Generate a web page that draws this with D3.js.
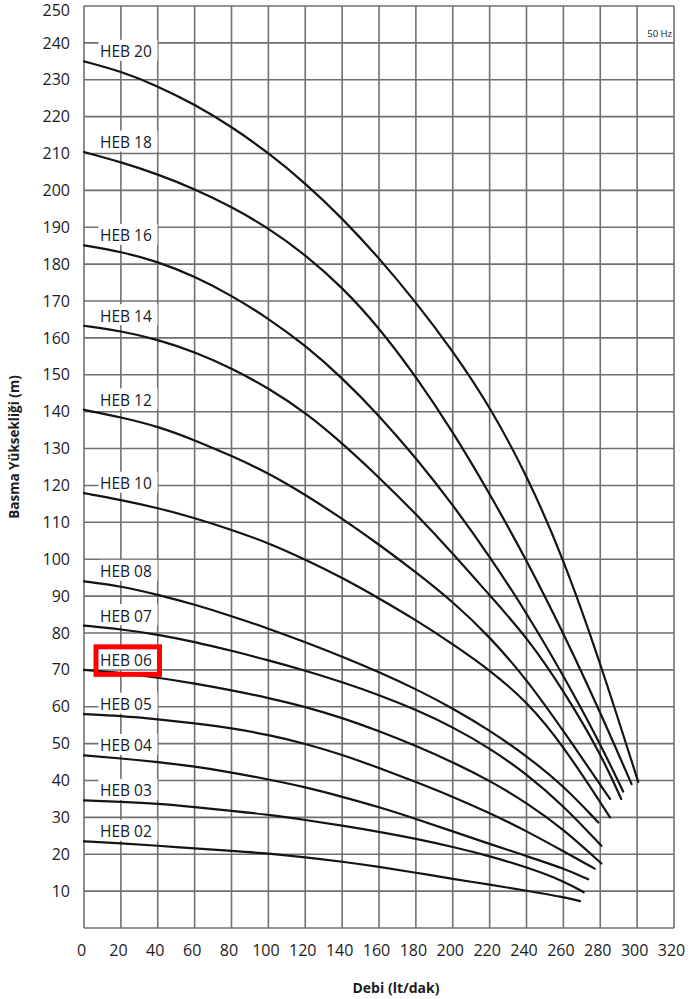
<!DOCTYPE html>
<html>
<head>
<meta charset="utf-8">
<script src="https://cdn.jsdelivr.net/npm/d3@7/dist/d3.min.js"></script>
<style>
  html, body { margin: 0; padding: 0; background: #fff; }
  svg { display: block; }
</style>
</head>
<body>
<svg id="chart" width="691" height="999"></svg>
<script>
// ---------- DATA ----------
const xTicks = [0,20,40,60,80,100,120,140,160,180,200,220,240,260,280,300,320];
const yTicks = [10,20,30,40,50,60,70,80,90,100,110,120,130,140,150,160,170,180,190,200,210,220,230,240,250];
const modelNames = ["HEB 20","HEB 18","HEB 16","HEB 14","HEB 12","HEB 10","HEB 08","HEB 07","HEB 06","HEB 05","HEB 04","HEB 03","HEB 02"];

const heb20 = [[0,235],[20,232.3],[40,228.3],[60,223.3],[80,217.3],[100,210.2],[120,202],[140,192.5],[160,181.7],[180,169.7],[200,156.5],[220,141.5],[240,123],[260,100.3],[280,72],[300.6,39.6]];
const heb18 = [[0,210.4],[20,207.7],[40,204.4],[60,200.4],[80,195.6],[100,189.8],[120,182.6],[140,173.8],[160,162.8],[180,149.6],[200,134.6],[220,117.8],[240,99.8],[260,80],[280,58.5],[297,39]];
const heb16 = [[0,185.1],[20,183.4],[40,180.7],[60,176.7],[80,171.5],[100,165.3],[120,158],[140,149.2],[160,139],[180,127.5],[200,114.8],[220,100.8],[240,85.5],[260,68.5],[280,50],[292.4,37]];
const heb14 = [[0,163.3],[20,161.9],[40,159.6],[60,156.2],[80,151.8],[100,146.4],[120,139.8],[140,131.5],[160,122.2],[180,112.3],[200,101.6],[220,90.2],[240,79],[260,64.5],[280,47.5],[291.4,35]];
const heb12 = [[0,140.5],[20,138.5],[40,136],[60,132.3],[80,128],[100,123.4],[120,117.5],[140,111],[160,104],[180,96.5],[200,88.5],[220,79],[240,67.5],[260,53.5],[285.3,35]];
const heb10 = [[0,117.9],[20,116.1],[40,113.9],[60,111.2],[80,108],[100,104.4],[120,99.9],[140,95],[160,89.4],[180,83.5],[200,77],[220,70],[240,61.5],[260,49.5],[285.3,30]];
const heb08 = [[0,94],[20,92.7],[40,90.4],[60,87.7],[80,84.6],[100,81.2],[120,77.5],[140,73.6],[160,69.4],[180,64.8],[200,59.6],[220,53.6],[240,46.7],[260,38.6],[279,28.6]];
const heb07 = [[0,82],[20,81],[40,79.6],[60,77.6],[80,75.2],[100,72.6],[120,69.8],[140,66.7],[160,63.2],[180,59.2],[200,54.5],[220,48.8],[240,41.8],[260,33.2],[280.6,22.3]];
const heb06 = [[0,70],[20,69.2],[40,67.9],[60,66.3],[80,64.5],[100,62.4],[120,60],[140,57],[160,53.4],[180,49.4],[200,45],[220,40],[240,34],[260,26.8],[280.6,17.5]];
const heb05 = [[0,58],[20,57.5],[40,56.6],[60,55.5],[80,54.2],[100,52.4],[120,50],[140,47],[160,43.4],[180,39.6],[200,35.6],[220,31.2],[240,26.3],[260,20.8],[277,16.1]];
const heb04 = [[0,46.8],[20,46],[40,45],[60,43.8],[80,42.2],[100,40.3],[120,38.2],[140,35.6],[160,32.8],[180,29.6],[200,26.2],[220,22.8],[240,19.5],[260,16.2],[273.5,13.2]];
const heb03 = [[0,34.6],[20,34.2],[40,33.7],[60,32.8],[80,31.8],[100,30.7],[120,29.3],[140,27.8],[160,26.1],[180,24.2],[200,22],[220,19.5],[240,16.5],[260,12.8],[271,9.7]];
const heb02 = [[0,23.5],[20,23],[40,22.3],[60,21.6],[80,20.9],[100,20.2],[120,19.2],[140,18],[160,16.6],[180,15],[200,13.3],[220,11.8],[240,10.1],[260,8.4],[269,7.3]];

const seriesList = [heb20,heb18,heb16,heb14,heb12,heb10,heb08,heb07,heb06,heb05,heb04,heb03,heb02];
const highlighted = "HEB 06";
const freqLabel = "50 Hz";
const xTitle = "Debi (lt/dak)";
const yTitle = "Basma Yüksekliği (m)";

// ---------- LAYOUT ----------
const margin = {left: 84, right: 17, top: 6, bottom: 71};
const W = 691, H = 999;
const svg = d3.select("#chart");
const font = "'Open Sans', 'Noto Sans', sans-serif";

const x = d3.scaleLinear().domain([0, 320]).range([margin.left, W - margin.right]);
const y = d3.scaleLinear().domain([0, 250]).range([H - margin.bottom, margin.top]);

const gridColor = "#707070";

// grid
const grid = svg.append("g");
grid.selectAll("line.v").data(xTicks).join("line")
  .attr("x1", d => x(d)).attr("x2", d => x(d))
  .attr("y1", y(0)).attr("y2", y(250))
  .attr("stroke", gridColor).attr("stroke-width", 1.6);
grid.selectAll("line.h").data(d3.range(0, 251, 10)).join("line")
  .attr("x1", x(0)).attr("x2", x(320))
  .attr("y1", d => y(d)).attr("y2", d => y(d))
  .attr("stroke", gridColor).attr("stroke-width", 1.6);

// axes (labels only)
const xAxis = d3.axisBottom(x).tickValues(xTicks).tickSize(0).tickPadding(17).tickFormat(d3.format("d"));
const gx = svg.append("g").attr("transform", `translate(0,${y(0)})`).call(xAxis);
gx.select(".domain").remove();
gx.selectAll("text").attr("font-family", font).attr("font-size", 16).attr("fill", "#1c1c1c").attr("dx", -3);

const yAxis = d3.axisLeft(y).tickValues(yTicks).tickSize(0).tickPadding(14).tickFormat(d3.format("d"));
const gy = svg.append("g").attr("transform", `translate(${x(0)},0)`).call(yAxis);
gy.select(".domain").remove();
gy.selectAll("text").attr("font-family", font).attr("font-size", 16).attr("fill", "#1c1c1c")
  .attr("dy", d => d === 250 ? "0.62em" : "0.32em");

// label backgrounds
const labelX = x(0) + 16;
const labelCenter = s => y(s[0][1]) - 9.5;
svg.append("g").selectAll("rect").data(seriesList).join("rect")
  .attr("x", labelX - 1.5).attr("width", 59)
  .attr("y", s => labelCenter(s) - 12).attr("height", 21)
  .attr("fill", "#fff");

// curves
const line = d3.line().x(d => x(d[0])).y(d => y(d[1])).curve(d3.curveBasis);
svg.append("g").selectAll("path").data(seriesList).join("path")
  .attr("d", line)
  .attr("fill", "none").attr("stroke", "#141414").attr("stroke-width", 2.2)
  .attr("stroke-linecap", "round");

// curve labels
svg.append("g").selectAll("text").data(seriesList).join("text")
  .attr("x", labelX).attr("y", s => labelCenter(s) + 5.5)
  .attr("font-family", font).attr("font-size", 15.5).attr("fill", "#161b2a")
  .text((s, i) => modelNames[i]);

// highlight box
const hi = modelNames.indexOf(highlighted);
svg.append("rect")
  .attr("x", labelX - 4).attr("width", 63.5)
  .attr("y", labelCenter(seriesList[hi]) - 13.5).attr("height", 27.5)
  .attr("fill", "none").attr("stroke", "#ff0000").attr("stroke-width", 5);

// frequency note
svg.append("text").attr("x", x(320) - 2).attr("y", y(250) + 31)
  .attr("text-anchor", "end").attr("font-family", font).attr("font-size", 9.5).attr("fill", "#222")
  .text(freqLabel);

// axis titles
svg.append("text").attr("x", 396).attr("y", 993)
  .attr("text-anchor", "middle").attr("font-family", font).attr("font-size", 14)
  .attr("font-weight", "bold").attr("fill", "#1c1c1c").text(xTitle);

svg.append("text").attr("transform", "translate(19,447) rotate(-90)")
  .attr("text-anchor", "middle").attr("font-family", font).attr("font-size", 13.5)
  .attr("font-weight", "bold").attr("fill", "#1c1c1c").text(yTitle);
</script>
</body>
</html>
